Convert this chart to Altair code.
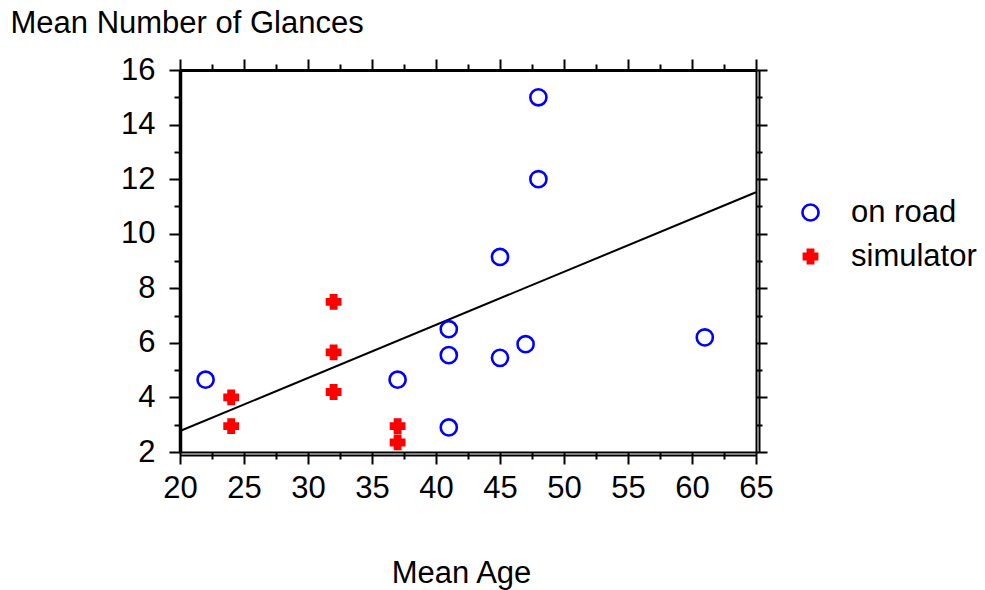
import altair as alt
import pandas as pd

# Mean age of drivers and mean number of glances, per study
road_age = [22, 37, 41, 41, 41, 45, 45, 47, 48, 48, 61]
road_glances = [4.65, 4.65, 6.5, 5.55, 2.9, 9.15, 5.45, 5.95, 15.0, 12.0, 6.2]
sim_age = [24, 24, 32, 32, 32, 37, 37]
sim_glances = [4.0, 2.95, 7.5, 5.65, 4.2, 2.95, 2.35]

# Fitted regression line end points
fit_age = [20, 65]
fit_glances = [2.77, 11.52]

series_names = ["on road", "simulator"]
x_major = [20, 25, 30, 35, 40, 45, 50, 55, 60, 65]
x_minor = [22.5, 27.5, 32.5, 37.5, 42.5, 47.5, 52.5, 57.5, 62.5]
y_major = [2, 4, 6, 8, 10, 12, 14, 16]
y_minor = [3, 5, 7, 9, 11, 13, 15]

points = pd.DataFrame({
    "age": road_age + sim_age,
    "glances": road_glances + sim_glances,
    "series": [series_names[0]] * len(road_age) + [series_names[1]] * len(sim_age),
})
fit = pd.DataFrame({"age": fit_age, "glances": fit_glances})

FONT = "Liberation Sans"
FS = 31
x_scale = alt.Scale(domain=[20, 65], nice=False, zero=False)
y_scale = alt.Scale(domain=[2, 16], nice=False, zero=False)


def axis(orient, values=None, tick_size=0, domain=False, domain_width=2,
         labels=False, offset=0, **kw):
    opts = dict(
        orient=orient, grid=False, labels=labels, domain=domain,
        domainColor="black", domainWidth=domain_width, tickColor="black",
        tickWidth=2, offset=offset, title=None, labelFont=FONT,
        labelFontSize=FS, labelColor="black", labelFlush=False,
        labelOverlap=False,
    )
    if values is not None:
        opts.update(values=values, ticks=True, tickSize=tick_size)
    else:
        opts.update(ticks=False)
    opts.update(kw)
    return alt.Axis(**opts)


# Fitted line carries the labelled bottom and left axes
line = alt.Chart(fit).mark_line(color="black", strokeWidth=2).encode(
    x=alt.X("age:Q", scale=x_scale, axis=axis(
        "bottom", x_major, 12, domain=True, domain_width=2, labels=True,
        format="d", labelPadding=9, title="Mean Age", titleFont=FONT,
        titleFontSize=FS, titleFontWeight="normal", titleColor="black",
        titleX=281, titleY=130, titleAlign="center",
        titleBaseline="alphabetic")),
    y=alt.Y("glances:Q", scale=y_scale, axis=axis(
        "left", y_major, 11, domain=True, domain_width=3.5, labels=True,
        format="d", labelPadding=14, title="Mean Number of Glances",
        titleFont=FONT, titleFontSize=FS, titleFontWeight="normal",
        titleColor="black", titleAngle=0, titleX=-170, titleY=-38,
        titleAlign="left", titleBaseline="alphabetic")),
)

scatter = alt.Chart(points).mark_point(strokeWidth=2.6, opacity=1).encode(
    x=alt.X("age:Q", scale=x_scale, axis=axis("bottom", x_minor, 7)),
    y=alt.Y("glances:Q", scale=y_scale, axis=axis("left", y_minor, 6)),
    shape=alt.Shape("series:N", title=None,
                    scale=alt.Scale(domain=series_names, range=["circle", "cross"])),
    stroke=alt.Stroke("series:N", title=None,
                      scale=alt.Scale(domain=series_names, range=["#0000ff", "#ff0000"])),
    fill=alt.Fill("series:N", title=None,
                  scale=alt.Scale(domain=series_names, range=["transparent", "#ff0000"])),
    size=alt.Size("series:N", title=None,
                  scale=alt.Scale(domain=series_names, range=[260, 175])),
)

# Frame axes: top and right ticks, plus the doubled bottom/right edges
frame_major = alt.Chart(fit).mark_point(opacity=0).encode(
    x=alt.X("age:Q", scale=x_scale, axis=axis("top", x_major, 11, domain=True, domain_width=3)),
    y=alt.Y("glances:Q", scale=y_scale, axis=axis("right", y_major, 11, domain=True, domain_width=2)),
)
frame_minor = alt.Chart(fit).mark_point(opacity=0).encode(
    x=alt.X("age:Q", scale=x_scale, axis=axis("top", x_minor, 6)),
    y=alt.Y("glances:Q", scale=y_scale, axis=axis("right", y_minor, 6)),
)
frame_edge = alt.Chart(fit).mark_point(opacity=0).encode(
    x=alt.X("age:Q", scale=x_scale, axis=axis("bottom", domain=True, domain_width=2, offset=3)),
    y=alt.Y("glances:Q", scale=y_scale, axis=axis("right", domain=True, domain_width=2, offset=3)),
)

chart = alt.layer(line, scatter, frame_major, frame_minor, frame_edge).resolve_axis(
    x="independent", y="independent"
).properties(
    width=576, height=382,
    autosize=alt.AutoSizeParams(type="none"),
    padding={"left": 180, "top": 70, "right": 229, "bottom": 138},
).configure_view(stroke=None).configure_legend(
    orient="none", legendX=615, legendY=127, padding=0,
    labelFont=FONT, labelFontSize=FS, labelColor="black", labelOffset=25,
    rowPadding=12, symbolStrokeWidth=2.6,
)

chart.save("out.html", embed_options={"renderer": "svg", "actions": False})
